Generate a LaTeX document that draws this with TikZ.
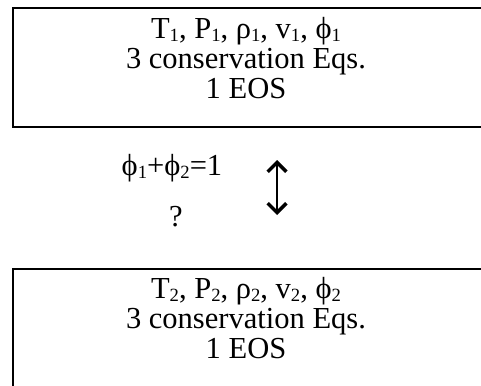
\documentclass[tikz,border=0pt]{standalone}
\usepackage{fontspec}
\setmainfont{Liberation Serif}
\usetikzlibrary{arrows.meta}
\newcommand{\sbs}[1]{\raisebox{-2.2pt}{\fontsize{14pt}{14pt}\selectfont #1}}

\begin{document}
\begin{tikzpicture}[x=0.75pt,y=-0.75pt,
  statebox/.style={draw=black,line width=1.5pt,rectangle,inner sep=0pt,
    minimum width=352.5pt,minimum height=89.6pt,anchor=north west},
  eqtext/.style={align=center,inner sep=0pt,font=\fontsize{22.9pt}{22.5pt}\selectfont}]

\clip (0,0) rectangle (481,385);

% upper state
\node[statebox] (state1) at (12,7) {};
\node[eqtext] (text1) at (246,58) {T\sbs{1}, P\sbs{1}, ρ\sbs{1}, v\sbs{1}, ϕ\sbs{1}\\
  3 conservation Eqs.\\ 1 EOS};

% lower state
\node[statebox,minimum height=120pt] (state2) at (12,268) {};
\node[eqtext] (text2) at (246,318) {T\sbs{2}, P\sbs{2}, ρ\sbs{2}, v\sbs{2}, ϕ\sbs{2}\\
  3 conservation Eqs.\\ 1 EOS};

% closure
\node[eqtext] (sum) at (172,168) {ϕ\sbs{1}+ϕ\sbs{2}=1};
\node[eqtext] (ques) at (176,217) {?};

\coordinate (up) at (277,160);
\coordinate (down) at (277,215);
\draw[line width=1.6pt,{Straight Barb[length=7pt,width=14pt,line width=2.6pt]}-{Straight Barb[length=7pt,width=14pt,line width=2.6pt]}] (up) -- (down);

\end{tikzpicture}
\end{document}
